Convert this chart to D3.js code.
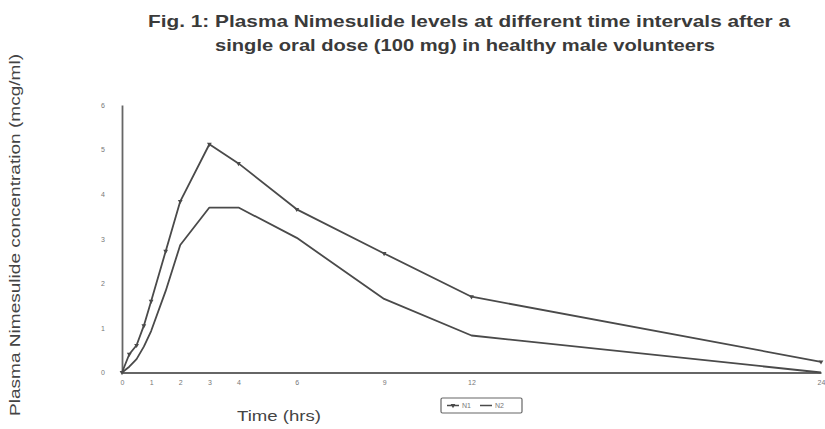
<!DOCTYPE html>
<html><head><meta charset="utf-8">
<script src="https://cdn.jsdelivr.net/npm/d3@7"></script>
<style>body{margin:0;background:#fff}svg{display:block}</style>
</head><body>
<svg id="c" width="825" height="429"></svg>
<script>
const times = [0,0.25,0.5,0.75,1,1.5,2,3,4,6,9,12,24];
const n1 = [0,0.41,0.61,1.05,1.6,2.72,3.84,5.12,4.69,3.66,2.67,1.70,0.24];
const n2 = [0,0.13,0.30,0.58,0.93,1.83,2.86,3.70,3.70,3.02,1.65,0.83,0];
const xTicks = [0,1,2,3,4,6,9,12,24];
const yTicks = [0,1,2,3,4,5,6];
const seriesNames = ["N1","N2"];
const titleLines = ["Fig. 1:  Plasma Nimesulide levels at different time intervals after a","single oral dose (100 mg) in healthy male volunteers"];
const xTitle = "Time (hrs)";
const yTitle = "Plasma Nimesulide concentration (mcg/ml)";

const svg = d3.select("#c");
const x = d3.scaleLinear().domain([0,24]).range([122,821]);
const y = d3.scaleLinear().domain([0,6]).range([372.5,105]);
const ink = "#4a4a4a";

// title
const tw = [642,500], tx=[469,465], ty=[27,51];
titleLines.forEach((t,i)=>{
  svg.append("text").attr("x",tx[i]).attr("y",ty[i]).attr("text-anchor","middle")
    .attr("font-family","'Liberation Sans Narrow','Liberation Sans',Arial,sans-serif")
    .attr("font-weight","bold").attr("font-size",17).attr("fill","#3a3a3a")
    .attr("textLength",tw[i]).attr("lengthAdjust","spacingAndGlyphs").text(t);
});

// axes
const gx = svg.append("g").attr("transform",`translate(0,${y(0)})`)
  .call(d3.axisBottom(x).tickValues(xTicks).tickSize(0).tickPadding(8).tickFormat(d3.format("d")));
const gy = svg.append("g").attr("transform",`translate(${x(0)},0)`)
  .call(d3.axisLeft(y).tickValues(yTicks).tickSize(0).tickPadding(17).tickFormat(d3.format("d")));
[gx,gy].forEach(g=>{
  g.select(".domain").attr("stroke","#666").attr("stroke-width",1.8);
  g.selectAll("text").attr("fill","#777").attr("font-size",7).attr("font-family","Arial,sans-serif");
});

// lines
const line = d3.line().x((d,i)=>x(times[i])).y(d=>y(d));
[n1,n2].forEach(s=>{
  svg.append("path").datum(s).attr("d",line).attr("fill","none")
    .attr("stroke",ink).attr("stroke-width",1.8).attr("stroke-linejoin","round");
});
const tri = d3.symbol().type(d3.symbolTriangle).size(10);
svg.append("g").selectAll("path").data(n1).join("path")
  .attr("d",tri).attr("fill",ink)
  .attr("transform",(d,i)=>`translate(${x(times[i])},${y(d)}) rotate(180)`);

// axis titles
svg.append("text").attr("x",279).attr("y",421).attr("text-anchor","middle")
  .attr("font-family","'Liberation Sans',Arial,sans-serif").attr("font-size",15).attr("fill","#444")
  .attr("textLength",84).attr("lengthAdjust","spacingAndGlyphs").text(xTitle);
svg.append("text").attr("transform","translate(20,235) rotate(-90)").attr("text-anchor","middle")
  .attr("font-family","'Liberation Sans',Arial,sans-serif").attr("font-size",14.5).attr("fill","#444")
  .attr("textLength",362).attr("lengthAdjust","spacingAndGlyphs").text(yTitle);

// legend
const lg = svg.append("g");
lg.append("rect").attr("x",441).attr("y",398).attr("width",81).attr("height",15).attr("rx",1.5)
  .attr("fill","none").attr("stroke","#666").attr("stroke-width",1.2);
const lx=[447,480];
seriesNames.forEach((n,i)=>{
  lg.append("line").attr("x1",lx[i]).attr("x2",lx[i]+12).attr("y1",405.5).attr("y2",405.5)
    .attr("stroke",ink).attr("stroke-width",1.5);
  if(i===0) lg.append("path").attr("d",tri).attr("fill",ink).attr("transform",`translate(${lx[i]+6},405.5) rotate(180)`);
  lg.append("text").attr("x",lx[i]+15).attr("y",408).attr("font-size",7).attr("fill","#777")
    .attr("font-family","Arial,sans-serif").text(n);
});
</script>
</body></html>
